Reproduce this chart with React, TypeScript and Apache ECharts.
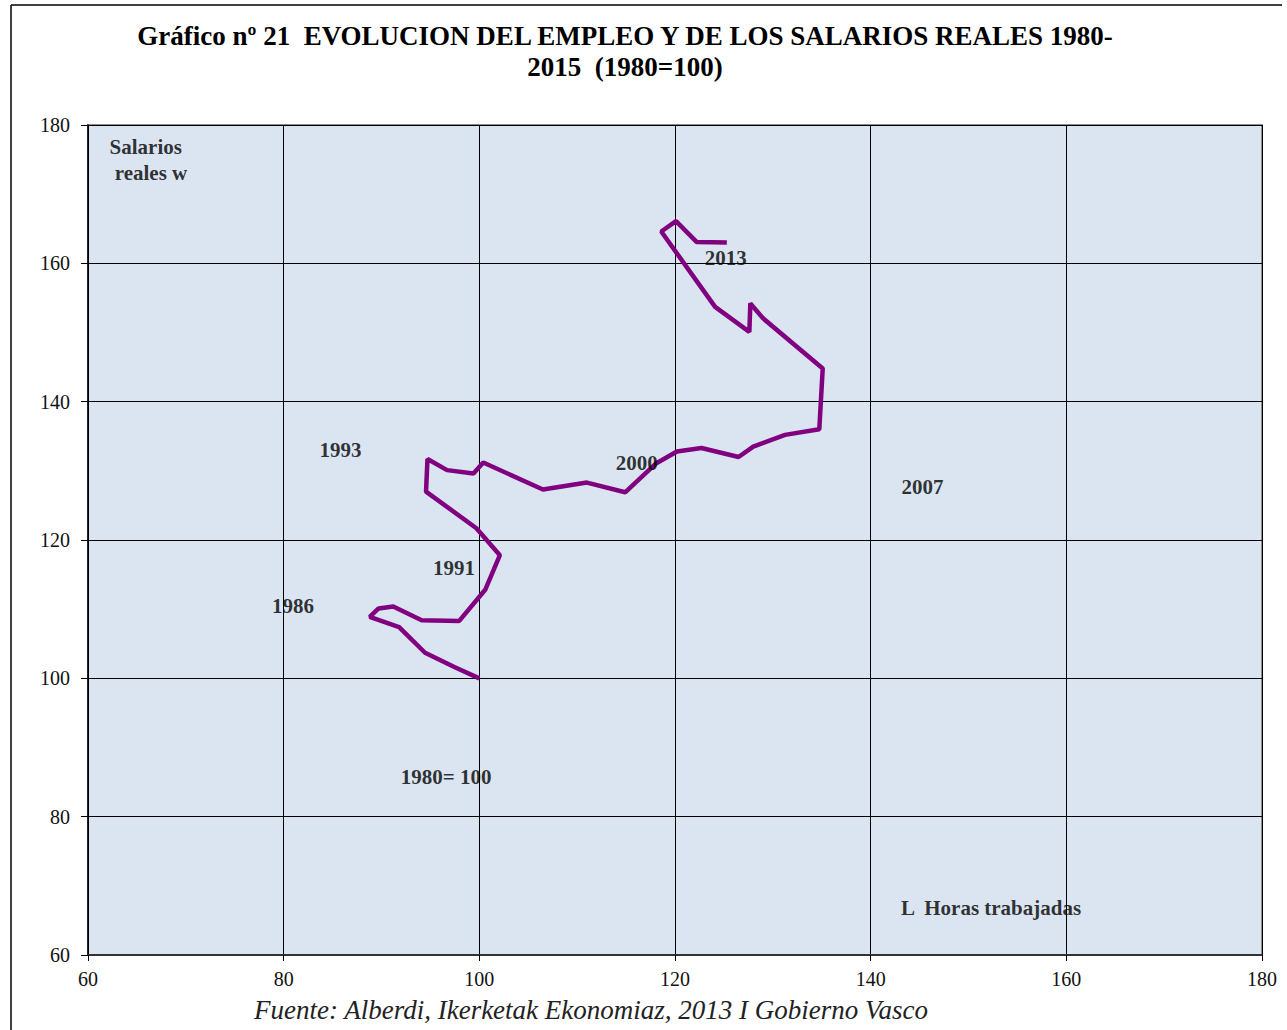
import React, { useEffect, useRef } from "react";
import * as echarts from "echarts";

// Employment (hours worked, L) index 1980-2015, 1980=100
const hoursIndex = [
  100, 97.5, 94.45, 91.8, 88.8, 89.7, 91.2, 94.1, 97.95, 100.6,
  102.1, 99.7, 94.55, 94.7, 96.7, 99.4, 100.4, 106.5, 111.0, 114.9,
  118.1, 120.2, 122.7, 126.5, 128.0, 131.25, 134.75, 135.1, 129.0, 127.7,
  127.6, 124.1, 118.6, 120.1, 122.2, 125.3,
];
// Real wages (w) index 1980-2015, 1980=100
const wageIndex = [
  100, 101.6, 103.7, 107.4, 108.9, 110.1, 110.4, 108.4, 108.3, 112.8,
  117.8, 121.7, 127.0, 131.7, 130.1, 129.6, 131.2, 127.3, 128.3, 126.9,
  131.1, 132.8, 133.3, 132.0, 133.5, 135.2, 136.0, 144.8, 152.05, 154.2,
  150.1, 153.7, 164.6, 166.1, 163.1, 163.0,
];

// Text annotations placed in data coordinates
const annotationLabels = [
  "Salarios\n  reales w", "1993", "2000", "2007", "2013", "1991", "1986",
  "1980= 100", "L  Horas trabajadas",
];
const annotationX = [65.9, 85.8, 116.1, 145.3, 125.2, 97.4, 80.95, 96.6, 152.3];
const annotationY = [175.0, 133.0, 131.1, 127.7, 160.8, 116.0, 110.5, 85.7, 66.8];

const xTicks = [60, 80, 100, 120, 140, 160, 180];
const yTicks = [60, 80, 100, 120, 140, 160, 180];

const titleText =
  "Gráfico nº 21  EVOLUCION DEL EMPLEO Y DE LOS SALARIOS REALES 1980-\n2015  (1980=100)";
const sourceText = "Fuente: Alberdi, Ikerketak Ekonomiaz, 2013 I Gobierno Vasco";

const SERIF = "'Liberation Serif', 'DejaVu Serif', serif";

export default function App() {
  const ref = useRef<HTMLDivElement>(null);

  useEffect(() => {
    if (!ref.current) return;
    const chart = echarts.init(ref.current, undefined, { renderer: "svg" });
    const pathData = hoursIndex.map((x, i) => [x, wageIndex[i]]);
    const annData = annotationLabels.map((name, i) => ({
      name,
      value: [annotationX[i], annotationY[i]],
    }));
    chart.setOption({
      animation: false,
      backgroundColor: "#ffffff",
      title: {
        text: titleText,
        left: 620,
        top: 15,
        textAlign: "center",
        textStyle: {
          fontFamily: SERIF,
          fontWeight: "bold",
          fontSize: 27,
          color: "#000",
          lineHeight: 31,
        },
      },
      grid: {
        left: 88,
        right: 25,
        top: 125,
        bottom: 75,
        show: true,
        backgroundColor: "#dbe5f1",
        borderColor: "#8c8c8c",
        borderWidth: 2,
      },
      xAxis: {
        type: "value",
        min: xTicks[0],
        max: xTicks[xTicks.length - 1],
        interval: 20,
        axisLine: { show: true, lineStyle: { color: "#333", width: 2 } },
        axisTick: { show: true, length: 6, lineStyle: { color: "#000" } },
        axisLabel: {
          margin: 14,
          fontFamily: SERIF,
          fontSize: 20,
          color: "#111",
        },
        splitLine: { show: true, lineStyle: { color: "#000", width: 1 } },
      },
      yAxis: {
        type: "value",
        min: yTicks[0],
        max: yTicks[yTicks.length - 1],
        interval: 20,
        axisLine: { show: true, lineStyle: { color: "#000", width: 1.5 } },
        axisTick: { show: true, length: 7, lineStyle: { color: "#000" } },
        axisLabel: {
          margin: 18,
          fontFamily: SERIF,
          fontSize: 20,
          color: "#111",
        },
        splitLine: { show: true, lineStyle: { color: "#000", width: 1 } },
      },
      series: [
        {
          type: "line",
          data: pathData,
          symbol: "none",
          lineStyle: { color: "#800080", width: 4.5 },
          z: 3,
        },
        {
          type: "scatter",
          data: annData,
          symbolSize: 0,
          z: 4,
          label: {
            show: true,
            position: "inside",
            formatter: (p: any) => p.name,
            fontFamily: SERIF,
            fontWeight: "bold",
            fontSize: 21,
            lineHeight: 26,
            color: "#000",
          },
        },
      ],
      graphic: [
        {
          type: "line",
          shape: { x1: 11, y1: 5, x2: 1282, y2: 5 },
          style: { stroke: "#000", lineWidth: 1.5 },
        },
        {
          type: "line",
          shape: { x1: 11, y1: 5, x2: 11, y2: 1030 },
          style: { stroke: "#000", lineWidth: 1.5 },
        },
        {
          type: "text",
          x: 591,
          y: 1010,
          style: {
            text: sourceText,
            fontFamily: SERIF,
            fontStyle: "italic",
            fontSize: 27,
            fill: "#222",
            textAlign: "center",
            textVerticalAlign: "middle",
          },
        },
      ],
    });
    return () => chart.dispose();
  }, []);

  return (
    <div
      ref={ref}
      style={{ position: "absolute", left: 0, top: 0, width: 1287, height: 1030 }}
    />
  );
}
